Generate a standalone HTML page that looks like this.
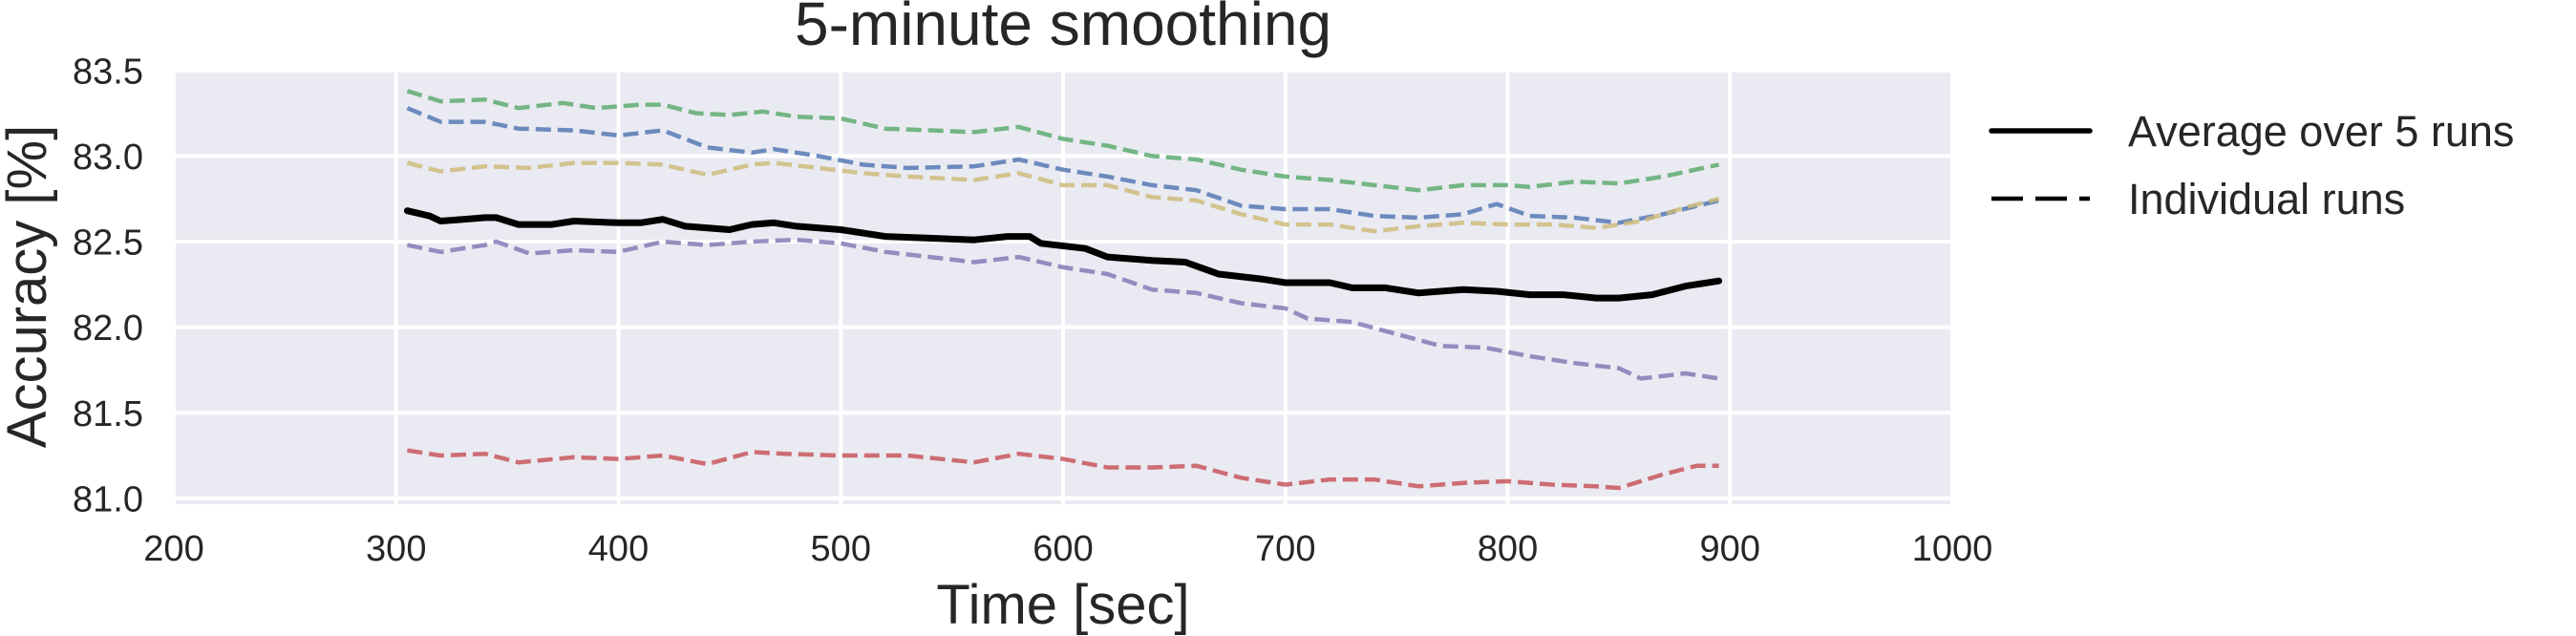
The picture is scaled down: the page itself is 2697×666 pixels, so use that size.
<!DOCTYPE html>
<html><head><meta charset="utf-8"><style>
body{margin:0;background:#fff;}
svg{display:block;font-family:"Liberation Sans",sans-serif;}
</style></head><body>
<svg id="chart" width="2697" height="666" viewBox="0 0 2697 666">
<rect x="182" y="75.6" width="1862" height="452.4" fill="#EAEAF2"/>
<g id="grid"></g><g id="series"></g><g id="ticks"></g>
<text x="1113" y="47" font-size="64" text-anchor="middle" fill="#262626">5-minute smoothing</text>
<text x="1113" y="653" font-size="58" text-anchor="middle" fill="#262626">Time [sec]</text>
<text transform="translate(48,300) rotate(-90)" font-size="58" text-anchor="middle" fill="#262626">Accuracy [%]</text>
<g>
<line x1="2085" y1="137" x2="2188" y2="137" stroke="#000" stroke-width="5.5" stroke-linecap="round"/>
<text x="2228" y="153" font-size="45" fill="#262626">Average over 5 runs</text>
<line x1="2085" y1="208" x2="2188" y2="208" stroke="#000" stroke-width="4.5" stroke-dasharray="33 13"/>
<text x="2228" y="224" font-size="45" fill="#262626">Individual runs</text>
</g>
</svg>
<script>
const xTicks=[200,300,400,500,600,700,800,900,1000];
const yTicks=[81.0,81.5,82.0,82.5,83.0,83.5];
const avgT=[305,315,320,330,340,345,355,370,380,400,410,420,430,450,460,470,480,500,520,540,560,575,585,590,610,620,640,655,670,690,700,720,730,745,760,780,795,810,825,840,850,865,880,895];
const avgV=[82.68,82.65,82.62,82.63,82.64,82.64,82.60,82.60,82.62,82.61,82.61,82.63,82.59,82.57,82.60,82.61,82.59,82.57,82.53,82.52,82.51,82.53,82.53,82.49,82.46,82.41,82.39,82.38,82.31,82.28,82.26,82.26,82.23,82.23,82.20,82.22,82.21,82.19,82.19,82.17,82.17,82.19,82.24,82.27];
const greenT=[305,320,340,355,375,390,410,420,435,450,465,480,500,520,540,560,580,600,620,640,660,680,700,720,740,760,780,800,810,830,850,870,895];
const greenV=[83.38,83.32,83.33,83.28,83.31,83.28,83.30,83.30,83.25,83.24,83.26,83.23,83.22,83.16,83.15,83.14,83.17,83.10,83.06,83.00,82.98,82.92,82.88,82.86,82.83,82.80,82.83,82.83,82.82,82.85,82.84,82.88,82.95];
const blueT=[305,320,340,355,380,400,420,440,460,470,490,510,530,560,580,600,620,640,660,680,700,720,740,760,780,795,810,830,850,870,895];
const blueV=[83.28,83.20,83.20,83.16,83.15,83.12,83.15,83.05,83.02,83.04,83.00,82.95,82.93,82.94,82.98,82.92,82.88,82.83,82.80,82.71,82.69,82.69,82.65,82.64,82.66,82.72,82.65,82.64,82.61,82.66,82.74];
const yellowT=[305,320,340,360,380,400,420,440,460,470,490,510,530,560,580,600,620,640,660,680,700,720,740,760,780,800,820,840,860,880,895];
const yellowV=[82.96,82.91,82.94,82.93,82.96,82.96,82.95,82.89,82.95,82.96,82.93,82.90,82.88,82.86,82.90,82.83,82.83,82.76,82.74,82.66,82.60,82.60,82.56,82.59,82.61,82.60,82.60,82.58,82.62,82.70,82.75];
const purpleT=[305,320,340,345,360,380,400,420,440,460,480,500,520,540,560,580,600,620,640,660,680,700,710,730,750,770,790,810,830,850,860,880,895];
const purpleV=[82.48,82.44,82.48,82.50,82.43,82.45,82.44,82.50,82.48,82.50,82.51,82.49,82.44,82.41,82.38,82.41,82.35,82.31,82.22,82.20,82.14,82.11,82.05,82.03,81.96,81.89,81.88,81.83,81.79,81.76,81.70,81.73,81.70];
const redT=[305,320,340,355,380,400,420,440,460,475,500,530,560,580,600,620,640,660,680,700,720,740,760,780,800,820,840,850,870,885,895];
const redV=[81.28,81.25,81.26,81.21,81.24,81.23,81.25,81.20,81.27,81.26,81.25,81.25,81.21,81.26,81.23,81.18,81.18,81.19,81.12,81.08,81.11,81.11,81.07,81.09,81.10,81.08,81.07,81.06,81.14,81.19,81.19];

const NS='http://www.w3.org/2000/svg';
const X=t=>182+(t-200)*232.75/100;
const Y=v=>521.8-(v-81)*179.2;
function mk(tag,attrs,parent){const e=document.createElementNS(NS,tag);for(const k in attrs)e.setAttribute(k,attrs[k]);parent.appendChild(e);return e;}
const grid=document.getElementById('grid'),ticks=document.getElementById('ticks'),series=document.getElementById('series');
xTicks.forEach(t=>{
 const l=mk('line',{x1:X(t),x2:X(t),y1:75.6,y2:528,stroke:'#fff','stroke-width':4},grid);
 
 
 const tx=mk('text',{x:X(t),y:587,'font-size':38,'text-anchor':'middle',fill:'#262626'},ticks);
 tx.textContent=String(t);
 
 
});
yTicks.forEach(v=>{
 const l=mk('line',{x1:182,x2:2044,y1:Y(v),y2:Y(v),stroke:'#fff','stroke-width':4},grid);
 
 
 const tx=mk('text',{x:150,y:Y(v)+13.6,'font-size':38,'text-anchor':'end',fill:'#262626'},ticks);
 tx.textContent=v.toFixed(1);
 
 
});
function draw(T,V,color,w,dash,name){
 const d=T.map((t,i)=>(i?'L':'M')+X(t).toFixed(1)+' '+Y(V[i]).toFixed(1)).join(' ');
 const p=mk('path',{d:d,fill:'none',stroke:color,'stroke-width':w,'stroke-linejoin':'round','stroke-linecap':dash?'butt':'round'},series);
 if(dash){p.setAttribute('stroke-dasharray','16 7');p.setAttribute('opacity','0.8');}
 
 
}
draw(greenT,greenV,'#55A868',4.5,true,'run-green-line');
draw(blueT,blueV,'#4C72B0',4.5,true,'run-blue-line');
draw(yellowT,yellowV,'#CCB974',4.5,true,'run-yellow-line');
draw(purpleT,purpleV,'#8172B2',4.5,true,'run-purple-line');
draw(redT,redV,'#C44E52',4.5,true,'run-red-line');
draw(avgT,avgV,'#000',7,false,'average-line');
</script>
</body></html>
